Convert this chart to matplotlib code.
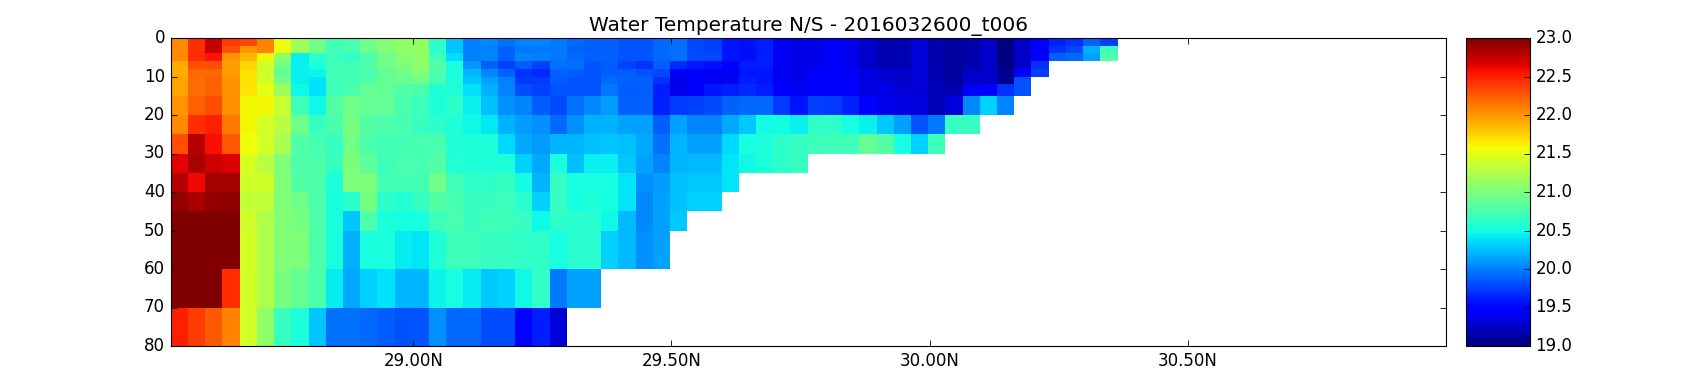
#!/usr/bin/env python3
"""
Water temperature section N/S - depth against latitude, jet colours.
"""

import numpy as np
import matplotlib
matplotlib.use("Agg")
import matplotlib.pyplot as plt
from matplotlib.transforms import ScaledTranslation

NA = np.nan

# === DATA ===
depth_edges = [0, 2, 4, 6, 8, 10, 12, 15, 20, 25, 30, 35, 40, 45, 50, 60, 70, 80]
lat_start = 28.5306
lat_step = 1 / 30
lat_ticks = [29.0, 29.5, 30.0, 30.5]
lat_labels = ["29.00N", "29.50N", "30.00N", "30.50N"]
depth_ticks = [0, 10, 20, 30, 40, 50, 60, 70, 80]
cbar_ticks = [19.0, 19.5, 20.0, 20.5, 21.0, 21.5, 22.0, 22.5, 23.0]

# temperature (deg C) per depth layer, south to north
t_0_2 = [22.06, 22.44, 22.75, 22.38, 22.33, 22.08, 21.55, 21.12, 20.9, 20.67, 20.72, 20.9, 20.99, 21.06, 21.06, 20.58, 20.23, 19.96,
         20.0, 19.91, 19.98, 19.98, 19.94, 19.87, 19.84, 19.85, 19.8, 19.8, 19.87, 19.91, 19.75, 19.72, 19.55, 19.52, 19.58, 19.42, 19.36,
         19.38, 19.47, 19.38, 19.25, 19.18, 19.18, 19.32, 19.17, 19.12, 19.17, 19.25, 19.02, 19.25, 19.47, 19.6, 19.65, 19.84, 19.72]
t_2_4 = [22.06, 22.44, 22.75, 22.3, 22.0, 22.08, 21.55, 21.12, 20.9, 20.67, 20.72, 20.9, 20.99, 21.06, 21.06, 20.58, 20.23, 19.96,
         19.96, 19.84, 19.94, 19.94, 19.94, 19.84, 19.82, 19.84, 19.8, 19.8, 19.87, 19.91, 19.75, 19.72, 19.55, 19.52, 19.58, 19.42, 19.36,
         19.38, 19.47, 19.38, 19.25, 19.18, 19.18, 19.32, 19.17, 19.12, 19.17, 19.25, 19.02, 19.25, 19.47, 19.65, 19.75, 20.15, 20.65]
t_4_6 = [22.06, 22.44, 22.55, 22.0, 21.86, 21.6, 21.06, 20.41, 20.58, 20.65, 20.6, 20.72, 20.9, 21.0, 21.06, 20.67, 20.33, 19.96,
         19.98, 19.84, 19.98, 19.96, 19.94, 19.87, 19.84, 19.84, 19.8, 19.8, 19.87, 19.91, 19.75, 19.75, 19.55, 19.52, 19.58, 19.42, 19.36,
         19.38, 19.47, 19.38, 19.25, 19.18, 19.18, 19.32, 19.17, 19.12, 19.17, 19.25, 19.02, 19.25, 19.47, 19.84, 19.87, 20.1, 20.77]
t_6_8 = [21.92, 22.3, 22.3, 21.96, 21.72, 21.36, 20.9, 20.41, 20.5, 20.67, 20.67, 20.77, 20.9, 20.97, 21.04, 20.77, 20.48, 20.05,
         19.82, 19.72, 19.82, 19.72, 19.91, 19.91, 19.8, 19.82, 19.72, 19.65, 19.82, 19.62, 19.55, 19.52, 19.5, 19.57, 19.57, 19.42, 19.36,
         19.38, 19.47, 19.38, 19.25, 19.18, 19.18, 19.32, 19.17, 19.12, 19.17, 19.25, 19.02, 19.28, 19.65, NA, NA, NA, NA]
t_8_10 = [21.92, 22.2, 22.2, 21.98, 21.68, 21.36, 20.84, 20.41, 20.42, 20.67, 20.67, 20.72, 20.84, 20.9, 20.99, 20.72, 20.48, 20.19,
          20.0, 19.84, 19.65, 19.62, 19.84, 19.82, 19.8, 19.82, 19.82, 19.8, 19.75, 19.42, 19.47, 19.42, 19.42, 19.55, 19.55, 19.42, 19.36,
          19.47, 19.47, 19.42, 19.35, 19.3, 19.25, 19.32, 19.18, 19.12, 19.25, 19.25, 19.07, 19.47, 19.7, NA, NA, NA, NA]
t_10_12 = [21.94, 22.18, 22.23, 22.0, 21.68, 21.38, 20.9, 20.41, 20.36, 20.65, 20.67, 20.75, 20.84, 20.88, 20.9, 20.72, 20.52, 20.25,
           20.1, 19.96, 19.68, 19.68, 19.82, 19.8, 19.8, 19.87, 19.84, 19.84, 19.65, 19.37, 19.47, 19.4, 19.42, 19.57, 19.55, 19.42, 19.36,
           19.47, 19.47, 19.42, 19.35, 19.3, 19.25, 19.32, 19.18, 19.12, 19.25, 19.28, 19.07, 19.78, NA, NA, NA, NA, NA]
t_12_15 = [21.94, 22.18, 22.23, 22.02, 21.67, 21.5, 21.12, 20.43, 20.34, 20.65, 20.72, 20.84, 20.84, 20.75, 20.72, 20.52, 20.52, 20.35,
           20.15, 19.98, 19.76, 19.72, 19.8, 19.8, 19.8, 19.94, 19.82, 19.82, 19.57, 19.4, 19.47, 19.55, 19.57, 19.63, 19.58, 19.45, 19.42,
           19.47, 19.47, 19.47, 19.35, 19.37, 19.3, 19.3, 19.2, 19.18, 19.47, 19.47, 19.65, 19.78, NA, NA, NA, NA, NA]
t_15_20 = [22.0, 22.23, 22.3, 22.02, 21.58, 21.58, 21.33, 20.65, 20.43, 20.77, 20.9, 20.84, 20.84, 20.72, 20.65, 20.5, 20.58, 20.41,
           20.21, 20.03, 19.98, 19.82, 19.75, 19.91, 20.0, 20.07, 19.84, 19.84, 19.6, 19.68, 19.72, 19.75, 19.84, 19.87, 19.87, 19.68, 19.53,
           19.72, 19.68, 19.6, 19.47, 19.38, 19.35, 19.32, 19.2, 19.32, 20.0, 20.28, 19.98, NA, NA, NA, NA, NA, NA]
t_20_25 = [22.06, 22.44, 22.5, 22.12, 21.58, 21.38, 21.25, 20.9, 20.63, 20.72, 20.94, 20.77, 20.74, 20.7, 20.63, 20.58, 20.52, 20.44,
           20.38, 20.15, 20.07, 20.03, 19.87, 20.03, 20.15, 20.15, 20.1, 20.1, 19.82, 20.1, 19.98, 19.98, 20.13, 20.25, 20.45, 20.45, 20.4,
           20.6, 20.58, 20.46, 20.41, 20.25, 20.1, 19.8, 19.94, 20.63, 20.63, NA, NA, NA, NA, NA, NA, NA, NA]
t_25_30 = [22.3, 22.8, 22.57, 22.26, 21.55, 21.38, 21.17, 20.75, 20.7, 20.63, 20.9, 20.74, 20.69, 20.69, 20.7, 20.72, 20.52, 20.5,
           20.5, 20.31, 20.13, 20.07, 20.17, 20.17, 20.21, 20.23, 20.21, 20.13, 19.91, 20.17, 20.1, 20.1, 20.31, 20.47, 20.5, 20.58, 20.63,
           20.65, 20.67, 20.67, 20.84, 20.77, 20.47, 20.28, 20.65, NA, NA, NA, NA, NA, NA, NA, NA, NA, NA]
t_30_35 = [22.65, 22.85, 22.72, 22.68, 21.45, 21.25, 20.99, 20.74, 20.74, 20.63, 20.95, 20.81, 20.65, 20.72, 20.7, 20.77, 20.53, 20.52,
           20.52, 20.52, 20.28, 20.13, 20.5, 20.21, 20.4, 20.4, 20.25, 20.1, 19.98, 20.17, 20.19, 20.19, 20.36, 20.44, 20.5, 20.58, 20.63,
           NA, NA, NA, NA, NA, NA, NA, NA, NA, NA, NA, NA, NA, NA, NA, NA, NA, NA]
t_35_40 = [22.8, 22.6, 22.87, 22.87, 21.36, 21.36, 20.99, 20.77, 20.74, 20.5, 20.97, 20.97, 20.69, 20.69, 20.69, 20.9, 20.67, 20.6,
           20.58, 20.63, 20.45, 20.17, 20.63, 20.46, 20.47, 20.47, 20.36, 20.03, 20.07, 20.21, 20.25, 20.25, 20.36,
           NA, NA, NA, NA, NA, NA, NA, NA, NA, NA, NA, NA, NA, NA, NA, NA, NA, NA, NA, NA, NA, NA]
t_40_45 = [22.93, 22.85, 22.93, 22.95, 21.29, 21.29, 20.99, 20.9, 20.74, 20.48, 20.56, 20.93, 20.58, 20.53, 20.63, 20.77, 20.7, 20.63,
           20.63, 20.65, 20.56, 20.28, 20.63, 20.46, 20.5, 20.47, 20.36, 20.0, 20.1, 20.21, 20.28, 20.28,
           NA, NA, NA, NA, NA, NA, NA, NA, NA, NA, NA, NA, NA, NA, NA, NA, NA, NA, NA, NA, NA, NA, NA]
t_45_50 = [23.0, 23.0, 23.0, 23.0, 21.36, 21.2, 20.99, 20.93, 20.74, 20.48, 20.23, 20.74, 20.5, 20.47, 20.47, 20.65, 20.72, 20.63,
           20.67, 20.65, 20.63, 20.44, 20.6, 20.56, 20.56, 20.44, 20.19, 20.0, 20.1, 20.25,
           NA, NA, NA, NA, NA, NA, NA, NA, NA, NA, NA, NA, NA, NA, NA, NA, NA, NA, NA, NA, NA, NA, NA, NA, NA]
t_50_60 = [23.0, 23.0, 23.0, 23.0, 21.38, 21.2, 20.99, 20.97, 20.74, 20.48, 20.15, 20.48, 20.48, 20.39, 20.36, 20.52, 20.65, 20.65,
           20.63, 20.63, 20.6, 20.6, 20.46, 20.56, 20.56, 20.28, 20.19, 20.03, 20.1,
           NA, NA, NA, NA, NA, NA, NA, NA, NA, NA, NA, NA, NA, NA, NA, NA, NA, NA, NA, NA, NA, NA, NA, NA, NA, NA]
t_60_70 = [23.0, 23.0, 23.0, 22.44, 21.38, 21.2, 20.93, 20.84, 20.74, 20.39, 20.12, 20.28, 20.35, 20.17, 20.17, 20.42, 20.46, 20.39,
           20.25, 20.28, 20.44, 20.6, 19.94, 20.1, 20.1,
           NA, NA, NA, NA, NA, NA, NA, NA, NA, NA, NA, NA, NA, NA, NA, NA, NA, NA, NA, NA, NA, NA, NA, NA, NA, NA, NA, NA, NA, NA]
t_70_80 = [22.5, 22.38, 22.26, 22.08, 21.38, 21.06, 20.63, 20.5, 20.23, 19.91, 19.91, 19.87, 19.82, 19.78, 19.8, 20.03, 19.87, 19.87,
           19.76, 19.76, 19.5, 19.58, 19.32,
           NA, NA, NA, NA, NA, NA, NA, NA, NA, NA, NA, NA, NA, NA, NA, NA, NA, NA, NA, NA, NA, NA, NA, NA, NA, NA, NA, NA, NA, NA, NA, NA]
# ==============

temp = np.array([
    t_0_2, t_2_4, t_4_6, t_6_8, t_8_10, t_10_12, t_12_15, t_15_20, t_20_25,
    t_25_30, t_30_35, t_35_40, t_40_45, t_45_50, t_50_60, t_60_70, t_70_80,
])
# my colour reading ran a little low between blue and yellow-green
temp = np.where((temp > 19.5) & (temp < 21.4), temp + 0.04, temp)
temp = np.ma.masked_invalid(temp)
lat_edges = lat_start + lat_step * np.arange(temp.shape[1] + 1)

W, H = 1700, 384
fig = plt.figure(figsize=(W / 100, H / 100), dpi=100)
ax = fig.add_axes([170.5 / W, 1 - 346 / H, (1446 - 170.5) / W, (346 - 38) / H])
cax = fig.add_axes([1466 / W, 1 - 346 / H, (1530 - 1466) / W, (346 - 38) / H])

# 1) Section
mesh = ax.pcolormesh(lat_edges, depth_edges, temp, cmap="jet", vmin=19, vmax=23,
                     antialiased=False, linewidth=0)
ax.set_xlim(28.53, 31.0)
ax.set_ylim(80, 0)
ax.set_xticks(lat_ticks)
ax.set_xticklabels(lat_labels)
ax.set_yticks(depth_ticks)
ax.tick_params(direction="in", top=True, right=True, length=4, width=0.6, labelsize=12, pad=4)
ax.set_title("Water Temperature N/S - 2016032600_t006", fontsize=14.4, pad=5.3)

# 2) Colour bar
cbar = fig.colorbar(mesh, cax=cax)
cbar.set_ticks(cbar_ticks)
cbar.set_ticklabels([f"{v:.1f}" for v in cbar_ticks])
cax.tick_params(direction="in", length=4, width=0.6, labelsize=12, pad=4)

# y labels sit about 2 px higher in the reference
nudge = ScaledTranslation(0, 2 / 100, fig.dpi_scale_trans)
for label in ax.get_yticklabels() + cax.get_yticklabels():
    label.set_transform(label.get_transform() + nudge)

fig.savefig("out.png", dpi=100)
